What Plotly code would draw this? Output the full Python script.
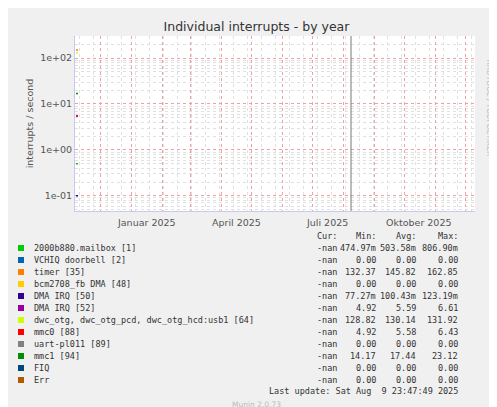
import plotly.graph_objects as go

names = ["2000b880.mailbox [1]", "VCHIQ doorbell [2]", "timer [35]", "bcm2708_fb DMA [48]",
         "DMA IRQ [50]", "DMA IRQ [52]", "dwc_otg, dwc_otg_pcd, dwc_otg_hcd:usb1 [64]",
         "mmc0 [88]", "uart-pl011 [89]", "mmc1 [94]", "FIQ", "Err"]
colors = ["#00CC00", "#0066B3", "#FF8000", "#FFCC00", "#330099", "#990099", "#CCFF00",
          "#FF0000", "#808080", "#008F00", "#00487D", "#B35A00"]
cur = ["-nan"] * 12
mins = ["474.97m", "0.00", "132.37", "0.00", "77.27m", "4.92", "128.82", "4.92", "0.00", "14.17", "0.00", "0.00"]
avgs = ["503.58m", "0.00", "145.82", "0.00", "100.43m", "5.59", "130.14", "5.58", "0.00", "17.44", "0.00", "0.00"]
maxs = ["806.90m", "0.00", "162.85", "0.00", "123.19m", "6.61", "131.92", "6.43", "0.00", "23.12", "0.00", "0.00"]
# early-visible values (start of range)
start_vals = [0.5, None, 150, None, 0.1, 5.5, 130, 5.5, None, 17, None, None]
start_dates = ["2024-11-07", "2024-11-09"]
month_labels = ["Januar 2025", "April 2025", "Juli 2025", "Oktober 2025"]
month_label_dates = ["2025-01-16", "2025-04-16", "2025-07-16", "2025-10-16"]

fig = go.Figure()
for n, c, v in zip(names, colors, start_vals):
    if v is not None:
        fig.add_trace(go.Scatter(x=start_dates, y=[v, v], mode="lines", line=dict(color=c, width=1.5),
                                 showlegend=False, hoverinfo="skip"))

fig.add_shape(type="line", x0="2025-08-09", x1="2025-08-09", y0=0, y1=1, yref="paper",
              line=dict(color="#777777", width=1))

tf = dict(family="DejaVu Sans", size=9.5, color="#555555")
for t, d in zip(month_labels, month_label_dates):
    fig.add_annotation(x=d, y=-0.025, yref="paper", text=t, showarrow=False, yanchor="top", font=tf)

mono = dict(family="DejaVu Sans Mono", size=8.5, color="#333333")
def ann(x, y, text, xanchor="left", font=mono):
    fig.add_annotation(x=x, y=y, xref="paper", yref="paper", text=text, showarrow=False,
                       xanchor=xanchor, yanchor="middle", font=font)

# paper coordinates: plot x from 67 to 467 px, y from 28 to 203 px
def px(xp): return (xp - 67) / 400.0
def py(yp): return (203 - yp) / 175.0

hy = 228
for x, t in [(331, "Cur:"), (370, "Min:"), (410, "Avg:"), (452, "Max:")]:
    ann(px(x), py(hy), t, "right")
for i in range(12):
    y = 240 + 12 * i
    fig.add_shape(type="rect", xref="paper", yref="paper", x0=px(10), x1=px(16), y0=py(y + 3), y1=py(y - 3),
                  fillcolor=colors[i], line=dict(width=0))
    ann(px(24), py(y), names[i])
    for x, arr in [(331, cur), (370, mins), (410, avgs), (452, maxs)]:
        ann(px(x), py(y), arr[i], "right")
ann(px(452), py(383), "Last update: Sat Aug  9 23:47:49 2025", "right")
ann(px(248), py(396), "Munin 2.0.73", "center", dict(family="DejaVu Sans", size=7.5, color="#BBBBBB"))
fig.add_annotation(x=px(488), y=py(100), xref="paper", yref="paper", text="RRDTOOL / TOBI OETIKER",
                   textangle=90, showarrow=False, font=dict(family="DejaVu Sans", size=7.5, color="#BBBBBB"))

fig.update_layout(
    width=497, height=407, margin=dict(l=67, r=30, t=28, b=204, autoexpand=False),
    paper_bgcolor="#F0F0F0", plot_bgcolor="white",
    title=dict(text="Individual interrupts - by year", x=0.5, xanchor="center", yref="container",
               y=1 - 19 / 407, yanchor="middle", automargin=False,
               font=dict(family="DejaVu Sans", size=12.5, color="#333333")),
    xaxis=dict(type="date", range=["2024-11-06", "2025-12-11"], tick0="2024-12-01", dtick="M1",
               showticklabels=False, ticks="", showgrid=True, gridcolor="#F0A0A0", griddash="dot",
               minor=dict(dtick=14 * 86400000, tick0="2024-11-10", showgrid=True, gridcolor="#E0E0E0", griddash="dot"),
               showline=True, linecolor="#C8C8F0", zeroline=False, automargin=False),
    yaxis=dict(type="log", range=[-1.33, 2.48], tickvals=[0.1, 1, 10, 100],
               ticktext=["1e-01", "1e+00", "1e+01", "1e+02"], tickfont=tf,
               showgrid=True, gridcolor="#F0A0A0", griddash="dot",
               minor=dict(dtick="D1", showgrid=True, gridcolor="#E0E0E0", griddash="dot"),
               title=dict(text="interrupts / second", font=tf, standoff=4),
               showline=True, linecolor="#C8C8F0", zeroline=False, automargin=False),
    showlegend=False,
)
fig.write_html("out.html")
